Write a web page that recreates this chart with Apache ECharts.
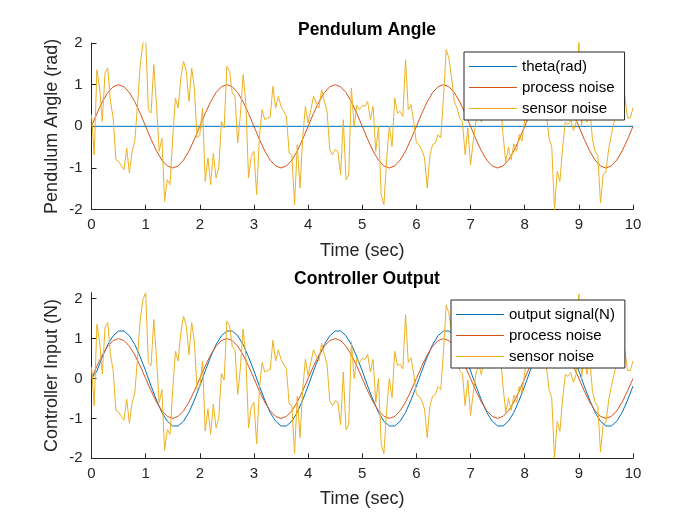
<!DOCTYPE html>
<html>
<head>
<meta charset="utf-8">
<script src="https://cdn.jsdelivr.net/npm/echarts@6/dist/echarts.min.js"></script>
<style>
  html, body { margin: 0; padding: 0; background: #fff; }
  #chart { width: 700px; height: 525px; }
</style>
</head>
<body>
<div id="chart"></div>
<script>
// sample steps (sec)
const sineStep = 0.1;
const noiseStep = 0.05;

// theta(rad) stays at zero the whole run
const thetaTime = [0, 10];
const thetaValues = [0, 0];

// process noise, sampled every 0.1 s
const processNoise = [
  0, 0.31, 0.59, 0.81, 0.95, 1, 0.95, 0.81, 0.59, 0.31, 0, -0.31, -0.59, -0.81, -0.95, -1, -0.95, -0.81, -0.59, -0.31,
  0, 0.31, 0.59, 0.81, 0.95, 1, 0.95, 0.81, 0.59, 0.31, 0, -0.31, -0.59, -0.81, -0.95, -1, -0.95, -0.81, -0.59, -0.31,
  0, 0.31, 0.59, 0.81, 0.95, 1, 0.95, 0.81, 0.59, 0.31, 0, -0.31, -0.59, -0.81, -0.95, -1, -0.95, -0.81, -0.59, -0.31,
  0, 0.31, 0.59, 0.81, 0.95, 1, 0.95, 0.81, 0.59, 0.31, 0, -0.31, -0.59, -0.81, -0.95, -1, -0.95, -0.81, -0.59, -0.31,
  0, 0.31, 0.59, 0.81, 0.95, 1, 0.95, 0.81, 0.59, 0.31, 0, -0.31, -0.59, -0.81, -0.95, -1, -0.95, -0.81, -0.59, -0.31,
  0
];

// output signal(N), sampled every 0.1 s
const outputSignal = [
  0, 0.19, 0.54, 0.85, 1.07, 1.19, 1.19, 1.07, 0.85, 0.54, 0.19, -0.19, -0.54, -0.85, -1.07, -1.19, -1.19, -1.07, -0.85, -0.54,
  -0.19, 0.19, 0.54, 0.85, 1.07, 1.19, 1.19, 1.07, 0.85, 0.54, 0.19, -0.19, -0.54, -0.85, -1.07, -1.19, -1.19, -1.07, -0.85, -0.54,
  -0.19, 0.19, 0.54, 0.85, 1.07, 1.19, 1.19, 1.07, 0.85, 0.54, 0.19, -0.19, -0.54, -0.85, -1.07, -1.19, -1.19, -1.07, -0.85, -0.54,
  -0.19, 0.19, 0.54, 0.85, 1.07, 1.19, 1.19, 1.07, 0.85, 0.54, 0.19, -0.19, -0.54, -0.85, -1.07, -1.19, -1.19, -1.07, -0.85, -0.54,
  -0.19, 0.19, 0.54, 0.85, 1.07, 1.19, 1.19, 1.07, 0.85, 0.54, 0.19, -0.19, -0.54, -0.85, -1.07, -1.19, -1.19, -1.07, -0.85, -0.54,
  -0.19
];

// sensor noise, sampled every 0.05 s (one row per second)
const sensorNoise = [
  0.28, -0.68, 1.36, 0.92, 0.12, 1.28, 1.40, 0.60, 0.20, -0.80, -0.84, -0.95, -1.04, -0.52, -1.12, -0.60, -0.36, 0.52, 1.48, 1.98,
  2.15, 0.40, 0.32, 1.48, 0.52, -0.60, -0.28, -1.80, -1.28, -1.40, -0.28, 0.68, 0.44, 1.16, 1.56, 1.32, 0.60, 1.40, 0.92, -0.28,
  -0.20, 0.44, -1.32, -0.76, -1.40, -0.64, -1.24, -1.00, 0.12, -0.04, 1.44, 1.32, 0.80, 0.72, -0.40, 0.28, 1.24, 0.56, -1.24, -0.72,
  -0.60, -1.64, -0.28, 0.40, 0.16, 0.20, 0.22, 0.96, 0.44, 0.72, 0.48, 0.36, 0.24, -0.64, -0.68, -1.88, -0.44, -1.48, -0.28, 0.48,
  0.08, 0.40, 0.72, 0.56, 0.44, 0.88, 0.60, 0.36, -0.56, -0.68, -0.56, -0.60, -1.16, 0.16, -1.28, -1.16, 0.92, 0.00, 0.50, 0.40,
  0.50, 0.48, 0.60, 0.16, 0.48, -0.60, 0.00, -1.64, -1.88, -0.80, 0.00, -0.48, 0.68, 0.32, 0.36, 0.24, 1.60, 0.40, 0.52, 0.12,
  -0.40, -0.44, -0.56, -0.76, -1.48, -0.68, -0.44, -0.40, -0.20, -0.28, 0.68, 1.84, 1.64, 1.16, 0.60, 0.44, 0.20, 0.12, -0.68, -0.04,
  -0.92, -0.36, 0.12, 0.35, 0.10, 0.50, 0.90, 0.60, 1.10, 0.70, 0.30, 0.60, -0.20, -0.85, -0.50, -0.80, -0.42, -0.60, -0.20, -0.35,
  0.15, 0.60, 1.00, 0.50, 1.20, 0.80, 1.30, 0.70, 0.30, -0.28, -0.50, -2.00, -1.08, -1.32, -0.52, 0.10, 0.05, 0.15, -0.10, 0.10,
  2.12, 0.00, 0.60, 0.10, 0.50, -0.30, -0.60, -0.70, -1.84, -1.15, -1.10, -0.55, -0.20, 0.10, 0.40, 0.80, 1.16, 0.70, 0.20, 0.20,
  0.44
];

const yTicks = [-2, -1, 0, 1, 2];

const FONT = 'Liberation Sans, Arial, sans-serif';
const INK = '#262626';
const BLUE = '#0072BD';
const ORANGE = '#D95319';
const YELLOW = '#EDB120';

// legend swatch: a 1px line in a 48x14 box (corner dots keep the box size)
const LINE_ICON = 'path://M0,0L0.01,0L0.01,0.01L0,0.01Z M0,6.5L48,6.5L48,7.5L0,7.5Z M47.99,13.99L48,13.99L48,14L47.99,14Z';

const pairs = (vals, step) => vals.map((v, i) => [+(i * step).toFixed(2), v]);

const xAxisFor = (gridIndex) => ({
  type: 'value',
  gridIndex: gridIndex,
  min: 0,
  max: 10,
  interval: 1,
  name: 'Time (sec)',
  nameLocation: 'middle',
  nameGap: 32,
  nameTextStyle: { fontFamily: FONT, fontSize: 18, color: INK },
  axisLine: { show: true, onZero: false, lineStyle: { color: INK, width: 1 } },
  axisTick: { show: true, inside: true, length: 5, lineStyle: { color: INK } },
  axisLabel: { fontFamily: FONT, fontSize: 15, color: INK, margin: 8 },
  splitLine: { show: false }
});

const yAxisFor = (gridIndex, max, name) => ({
  type: 'value',
  gridIndex: gridIndex,
  min: -2,
  max: max,
  name: name,
  nameLocation: 'middle',
  nameRotate: 90,
  nameGap: 30,
  nameMoveOverlap: false,
  nameTextStyle: { fontFamily: FONT, fontSize: 18, color: INK },
  axisLine: { show: true, onZero: false, lineStyle: { color: INK, width: 1 } },
  axisTick: { show: true, inside: true, length: 5, customValues: yTicks, lineStyle: { color: INK } },
  axisLabel: { fontFamily: FONT, fontSize: 15, color: INK, margin: 9, customValues: yTicks },
  splitLine: { show: false }
});

const lineSeries = (name, data, color, axis) => ({
  name: name,
  type: 'line',
  xAxisIndex: axis,
  yAxisIndex: axis,
  data: data,
  symbol: 'none',
  lineStyle: { color: color, width: 1 },
  itemStyle: { color: color },
  emphasis: { disabled: true },
  animation: false
});

const legendFor = (left, top, names) => ({
  orient: 'vertical',
  left: left,
  top: top,
  data: names,
  icon: LINE_ICON,
  selectedMode: false,
  itemWidth: 48,
  itemHeight: 14,
  itemGap: 6,
  padding: [7, 10, 4, 5],
  backgroundColor: '#fff',
  borderColor: INK,
  borderWidth: 1,
  borderRadius: 0,
  textStyle: { fontFamily: FONT, fontSize: 15, color: '#000' }
});

const chart = echarts.init(document.getElementById('chart'), null, { renderer: 'canvas' });
const option = {
  backgroundColor: '#fff',
  animation: false,
  title: [
    { text: 'Pendulum Angle', left: 362, top: 16, textAlign: 'center',
      textStyle: { fontFamily: FONT, fontSize: 17.5, fontWeight: 'bold', color: '#000' } },
    { text: 'Controller Output', left: 362, top: 265, textAlign: 'center',
      textStyle: { fontFamily: FONT, fontSize: 17.5, fontWeight: 'bold', color: '#000' } }
  ],
  grid: [
    { left: 91.5, top: 43, width: 541.5, height: 166.7 },
    { left: 91.5, top: 292.7, width: 541.5, height: 165.6 }
  ],
  xAxis: [xAxisFor(0), xAxisFor(1)],
  yAxis: [
    yAxisFor(0, 2, 'Pendulum Angle (rad)'),
    yAxisFor(1, 2.15, 'Controller Input (N)')
  ],
  legend: [
    legendFor(464, 52, ['theta(rad)', 'process noise', 'sensor noise']),
    legendFor(451, 300, ['output signal(N)', 'process noise', 'sensor noise'])
  ],
  series: [
    lineSeries('theta(rad)', thetaTime.map((t, i) => [t, thetaValues[i]]), BLUE, 0),
    lineSeries('process noise', pairs(processNoise, sineStep), ORANGE, 0),
    lineSeries('sensor noise', pairs(sensorNoise, noiseStep), YELLOW, 0),
    lineSeries('output signal(N)', pairs(outputSignal, sineStep), BLUE, 1),
    lineSeries('process noise', pairs(processNoise, sineStep), ORANGE, 1),
    lineSeries('sensor noise', pairs(sensorNoise, noiseStep), YELLOW, 1)
  ]
};
chart.setOption(option);
</script>
</body>
</html>
